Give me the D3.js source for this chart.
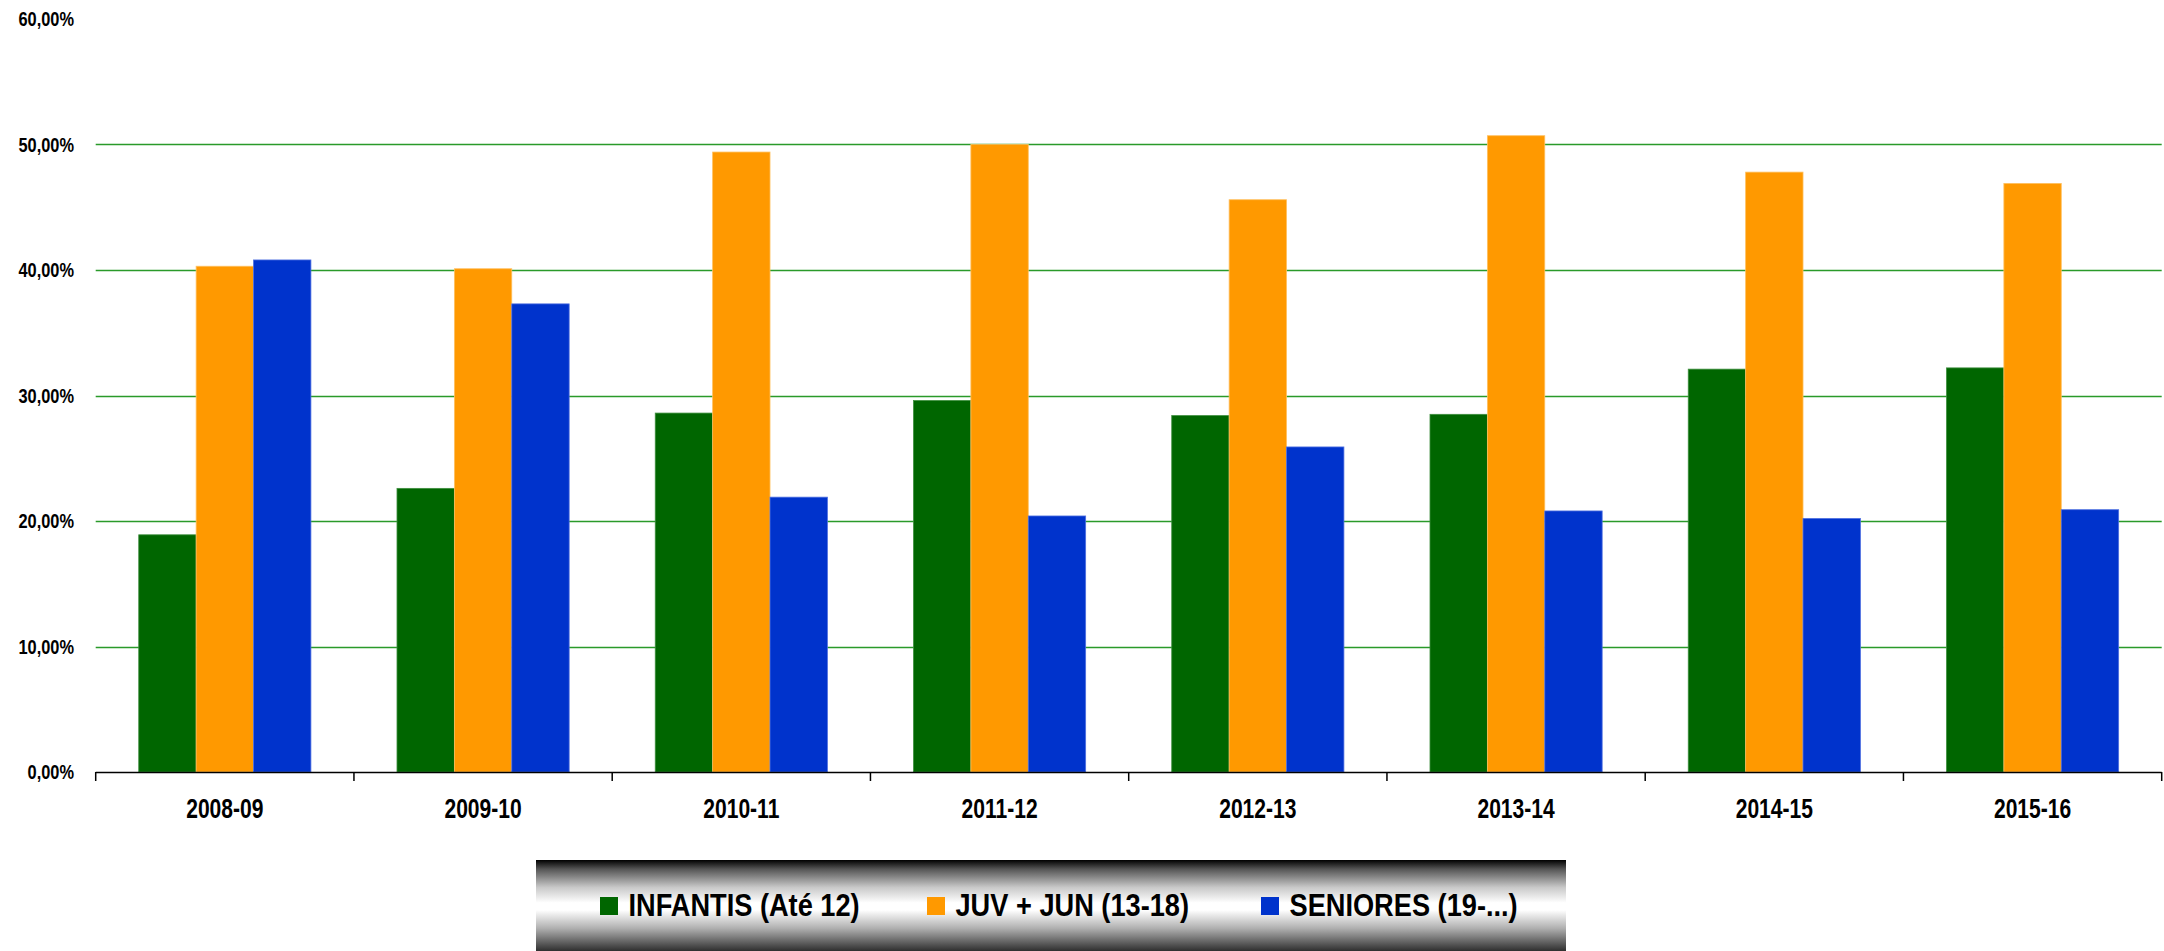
<!DOCTYPE html>
<html>
<head>
<meta charset="utf-8">
<script src="https://cdn.jsdelivr.net/npm/d3@7"></script>
<style>
  html, body { margin: 0; padding: 0; background: #ffffff; }
  svg { display: block; }
  text { font-family: "Liberation Sans", Arial, sans-serif; font-weight: bold; fill: #000; }
</style>
</head>
<body>
<svg id="chart" width="2164" height="951"></svg>
<script>
const categories = ["2008-09", "2009-10", "2010-11", "2011-12", "2012-13", "2013-14", "2014-15", "2015-16"];
const seriesNames = ["INFANTIS (Até 12)", "JUV + JUN (13-18)", "SENIORES (19-...)"];
const infantis = [18.9, 22.6, 28.6, 29.6, 28.4, 28.5, 32.1, 32.2];
const juvJun   = [40.3, 40.1, 49.4, 50.0, 45.6, 50.7, 47.8, 46.9];
const seniores = [40.8, 37.3, 21.9, 20.4, 25.9, 20.8, 20.2, 20.9];
const yTicks = [0, 10, 20, 30, 40, 50, 60];
const colors = ["#006600", "#ff9900", "#0033cc"];
const strokes = ["#3f8f3f", "#ffc060", "#4d6fe0"];

const seriesValues = [infantis, juvJun, seniores];

(function () {
const svg = d3.select("#chart");
const pLeft = 95.7, pRight = 2161.7, pTop = 19, pBottom = 772;

const x0 = d3.scaleBand().domain(categories).range([pLeft, pRight]).paddingInner(0).paddingOuter(0);
const x1 = d3.scaleBand().domain(d3.range(seriesNames.length)).range([0, x0.bandwidth()]).paddingInner(0).paddingOuter(0.75);
const y = d3.scaleLinear().domain([0, 60]).range([pBottom, pTop]);

// gridlines
svg.append("g").selectAll("line")
  .data(yTicks.filter(t => t > 0 && t < 60))
  .join("line")
  .attr("x1", pLeft).attr("x2", pRight)
  .attr("y1", d => Math.round(y(d)) + 0.5).attr("y2", d => Math.round(y(d)) + 0.5)
  .attr("stroke", "#2a9a2a").attr("stroke-width", 1.4);

// y labels (condensed look via horizontal scaling)
svg.append("g").selectAll("text")
  .data(yTicks)
  .join("text")
  .attr("transform", d => `translate(74,${y(d)}) scale(0.82,1)`)
  .attr("dy", "0.365em")
  .attr("text-anchor", "end")
  .style("font-size", "20px")
  .text(d => d3.format(".2f")(d).replace(".", ",") + "%");

// bars
const groups = svg.append("g").selectAll("g")
  .data(categories)
  .join("g")
  .attr("transform", d => `translate(${x0(d)},0)`);

groups.selectAll("rect")
  .data((c, i) => seriesValues.map((vals, s) => ({ s, v: vals[i] })))
  .join("rect")
  .attr("x", d => x1(d.s))
  .attr("width", x1.bandwidth())
  .attr("y", d => y(d.v))
  .attr("height", d => pBottom - y(d.v))
  .attr("fill", d => colors[d.s])
  .attr("stroke", d => strokes[d.s])
  .attr("stroke-width", 0.8);

// x axis
const xAxis = d3.axisBottom(x0).tickSize(0).tickPadding(26.5);
const gx = svg.append("g").attr("transform", `translate(0,${pBottom})`).call(xAxis);
gx.attr("font-family", null).attr("font-size", null);
gx.select(".domain").remove();
gx.selectAll("text").style("font-size", "27px").attr("fill", "#000").attr("transform", "scale(0.78,1)");
svg.append("line").attr("x1", pLeft).attr("x2", pRight).attr("y1", pBottom + 0.5).attr("y2", pBottom + 0.5)
  .attr("stroke", "#000").attr("stroke-width", 1.5);
const boundaries = categories.map(c => x0(c)).concat([pRight]);
svg.append("g").selectAll("line").data(boundaries).join("line")
  .attr("x1", d => d).attr("x2", d => d)
  .attr("y1", pBottom).attr("y2", pBottom + 9)
  .attr("stroke", "#000").attr("stroke-width", 1.5);

// legend
const defs = svg.append("defs");
const grad = defs.append("linearGradient").attr("id", "chrome").attr("x1", 0).attr("y1", 0).attr("x2", 0).attr("y2", 1);
[[0, "#000000"], [0.1, "#555555"], [0.3, "#c8c8c8"], [0.47, "#ffffff"], [0.55, "#ffffff"], [0.75, "#b0b0b0"], [1, "#2f2f2f"]]
  .forEach(([o, c]) => grad.append("stop").attr("offset", o).attr("stop-color", c));
svg.append("rect").attr("x", 536).attr("y", 860).attr("width", 1030).attr("height", 91).attr("fill", "url(#chrome)");

const legendX = [600, 927, 1261];
const lg = svg.append("g").selectAll("g").data(seriesNames).join("g")
  .attr("transform", (d, i) => `translate(${legendX[i]},0)`);
lg.append("rect").attr("x", 0).attr("y", 897).attr("width", 18).attr("height", 18)
  .attr("fill", (d, i) => colors[i]);
lg.append("text").attr("transform", "translate(28.5,916) scale(0.85,1)").style("font-size", "32px").text(d => d);
})();
</script>
</body>
</html>
